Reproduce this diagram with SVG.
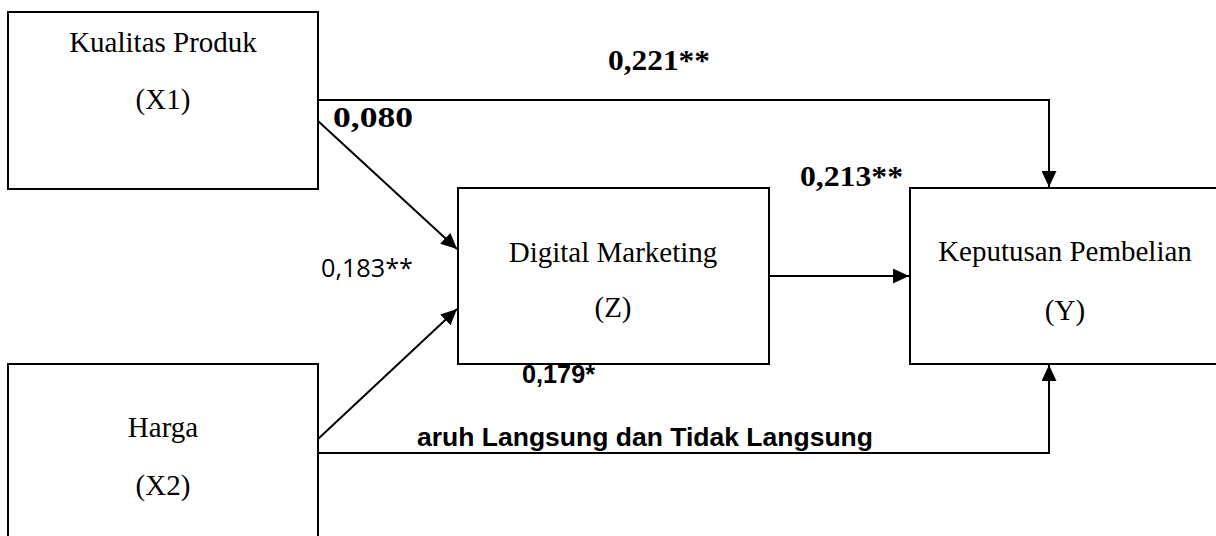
<svg xmlns="http://www.w3.org/2000/svg" width="1216" height="536" viewBox="0 0 1216 536">
<style>
.box{fill:#fff;stroke:#000;stroke-width:2}
.lbl{font-family:"Liberation Serif","Times New Roman",serif;font-size:29px;fill:#000;text-anchor:middle}
.coef{font-family:"Liberation Serif","Times New Roman",serif;font-size:30px;font-weight:bold;fill:#000}
.sansb{font-family:"Liberation Sans",Arial,sans-serif;font-weight:bold;fill:#000}
.sans{font-family:"Open Sans","Liberation Sans",sans-serif;fill:#000}
.con{fill:none;stroke:#000;stroke-width:2}
</style>
<defs>
<marker id="ah" markerUnits="userSpaceOnUse" markerWidth="17" markerHeight="15" refX="16" refY="7.5" orient="auto">
<path d="M0,0 L16,7.5 L0,15 Z" fill="#000"/>
</marker>
</defs>
<rect width="1216" height="536" fill="#fff"/>
<g id="connectors">
<path class="con" d="M318,100 H1049 V187" marker-end="url(#ah)"/>
<path class="con" d="M318,121 L457,249" marker-end="url(#ah)"/>
<path class="con" d="M318,439 L457,309" marker-end="url(#ah)"/>
<path class="con" d="M769,276 H909" marker-end="url(#ah)"/>
<path class="con" d="M318,453 H1049 V365" marker-end="url(#ah)"/>
</g>
<g id="node-x1">
<rect class="box" x="8" y="12" width="310" height="177"/>
<text class="lbl" x="163" y="52">Kualitas Produk</text>
<text class="lbl" x="163" y="109">(X1)</text>
</g>
<g id="node-x2">
<rect class="box" x="8" y="364" width="310" height="180"/>
<text class="lbl" x="163" y="437">Harga</text>
<text class="lbl" x="163" y="495">(X2)</text>
</g>
<g id="node-z">
<rect class="box" x="458" y="188" width="311" height="176"/>
<text class="lbl" x="613" y="262">Digital Marketing</text>
<text class="lbl" x="613" y="317">(Z)</text>
</g>
<g id="node-y">
<rect class="box" x="910" y="188" width="320" height="176"/>
<text class="lbl" x="1065" y="261">Keputusan Pembelian</text>
<text class="lbl" x="1065" y="320">(Y)</text>
</g>
<g id="labels">
<text class="coef" x="608" y="70" textLength="102" lengthAdjust="spacingAndGlyphs">0,221**</text>
<text class="coef" x="333" y="127" textLength="80" lengthAdjust="spacingAndGlyphs">0,080</text>
<text class="coef" x="800" y="186" textLength="103" lengthAdjust="spacingAndGlyphs">0,213**</text>
<text class="sans" x="321" y="277" font-size="26" textLength="92" lengthAdjust="spacingAndGlyphs">0,183**</text>
<text class="sansb" x="522" y="383" font-size="25" textLength="73" lengthAdjust="spacingAndGlyphs">0,179*</text>
<text class="sansb" x="417" y="446" font-size="26" textLength="456" lengthAdjust="spacingAndGlyphs">aruh Langsung dan Tidak Langsung</text>
</g>
</svg>
